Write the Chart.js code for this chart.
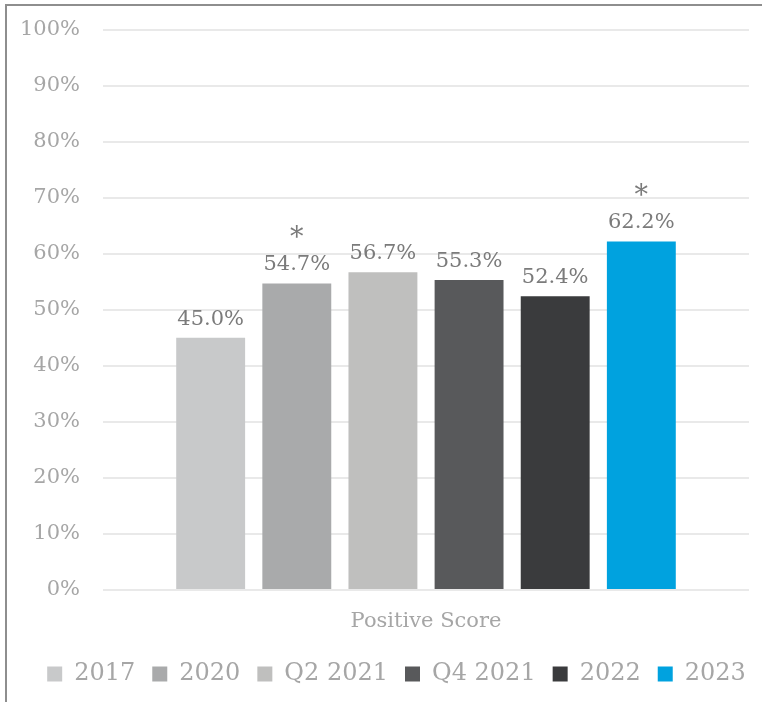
<!DOCTYPE html>
<html>
<head>
<meta charset="utf-8">
<script src="https://cdn.jsdelivr.net/npm/chart.js@4"></script>
<style>
  html, body { margin: 0; padding: 0; background: #fff; }
  #wrap { position: relative; width: 762px; height: 702px; overflow: hidden; }
  #frame { position: absolute; left: 5px; top: 4px; width: 800px; height: 760px;
           border-top: 2px solid #8e8e8e; border-left: 2px solid #8e8e8e; }
  canvas { position: absolute; left: 0; top: 0; }
</style>
</head>
<body>
<div id="wrap">
  <div id="frame"></div>
  <canvas id="score" width="762" height="702"></canvas>
</div>
<script>
const categories = ["Positive Score"];
const seriesNames = ["2017", "2020", "Q2 2021", "Q4 2021", "2022", "2023"];
const seriesValues = [45.0, 54.7, 56.7, 55.3, 52.4, 62.2];
const significant = [false, true, false, false, false, true];
const seriesColors = ["#c8c9ca", "#a9aaab", "#bfbfbe", "#58595b", "#3a3b3d", "#00a2df"];
const yTickStep = 10;

const serif = "'DejaVu Serif', 'Liberation Serif', serif";

// value labels and asterisks above bars
const barLabels = {
  id: "barLabels",
  afterDatasetsDraw(chart) {
    const ctx = chart.ctx;
    ctx.save();
    ctx.textAlign = "center";
    ctx.textBaseline = "alphabetic";
    ctx.fillStyle = "#7b7b7b";
    chart.data.datasets.forEach(function(ds, i) {
      const bar = chart.getDatasetMeta(i).data[0];
      ctx.font = "21px " + serif;
      ctx.fillText(ds.data[0].toFixed(1) + "%", bar.x, bar.y - 13);
      if (significant[i]) {
        ctx.font = "27px " + serif;
        ctx.fillText("*", bar.x, bar.y - 37);
      }
    });
    ctx.restore();
  }
};

// legend sits a bit right of the plot centre in the original
const legendShift = {
  id: "legendShift",
  afterLayout(chart) {
    chart.legend.left += 22;
    chart.legend.right += 22;
  }
};

const ctx1 = document.getElementById("score").getContext("2d");
const scoreChart = new Chart(ctx1, {
  type: "bar",
  data: {
    labels: categories,
    datasets: seriesNames.map(function(name, i) {
      return {
        label: name,
        data: [seriesValues[i]],
        backgroundColor: seriesColors[i],
        categoryPercentage: 0.8,
        barPercentage: 0.8
      };
    })
  },
  options: {
    responsive: false,
    animation: false,
    layout: { padding: { top: 0, right: 13, bottom: 6, left: 0 } },
    plugins: {
      legend: {
        position: "bottom",
        labels: {
          boxWidth: 15,
          boxHeight: 15,
          padding: 17,
          color: "#a6a6a6",
          font: { family: serif, size: 24 }
        }
      },
      tooltip: { enabled: false }
    },
    scales: {
      x: {
        grid: { display: false },
        border: { display: false },
        ticks: { color: "#a6a6a6", padding: 11, font: { family: serif, size: 21 } },
        afterFit: function(scale) { scale.height = 55; }
      },
      y: {
        min: 0,
        max: 100,
        ticks: {
          stepSize: yTickStep,
          padding: 17,
          color: "#a6a6a6",
          font: { family: serif, size: 21 },
          callback: function(v) { return v + "%"; }
        },
        grid: { color: "#e9e9e9", lineWidth: 2, drawTicks: true, tickLength: 6, tickColor: "rgba(0,0,0,0)" },
        border: { display: false },
        afterFit: function(scale) { scale.width = 103; }
      }
    }
  },
  plugins: [barLabels, legendShift]
});
</script>
</body>
</html>
